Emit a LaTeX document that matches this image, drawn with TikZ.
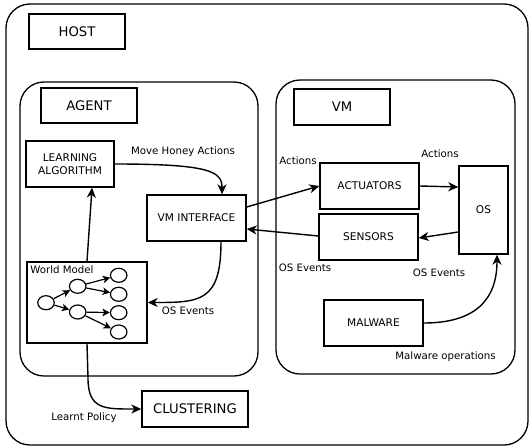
\documentclass[tikz,border=0pt]{standalone}
\usepackage{fontspec}
\setmainfont{DejaVu Sans}
\usetikzlibrary{arrows.meta,shapes.geometric}
\begin{document}
\begin{tikzpicture}[x=1pt,y=-1pt,
  container/.style={draw,line width=1.3pt,rounded corners=24pt,inner sep=0pt},
  box/.style={draw,line width=1.4pt,inner sep=0pt,font=\fontsize{10.6}{12.5}\selectfont,align=center},
  titlebox/.style={box,font=\fontsize{13.2}{15}\selectfont},
  lbl/.style={font=\fontsize{10.2}{12}\selectfont,inner sep=0pt},
  arr/.style={line width=1.4pt,-{Stealth[length=10pt,width=9pt,inset=3pt]}},
  sarr/.style={line width=1.2pt,-{Stealth[length=7.5pt,width=7.5pt,inset=2pt]}},
  st/.style={draw,line width=1.2pt,ellipse,minimum width=16.5pt,minimum height=14pt,inner sep=0pt}]
\useasboundingbox (0,0) rectangle (530,447);
% containers
\node[container,minimum width=522pt,minimum height=441pt] (hostc) at (267,224.5) {};
\node[container,minimum width=238pt,minimum height=294pt] (agentc) at (139,229) {};
\node[container,minimum width=239pt,minimum height=294pt] (vmc) at (395.5,227) {};
% title boxes
\node[titlebox,minimum width=96pt,minimum height=35pt] (host) at (77,31.5) {HOST};
\node[titlebox,minimum width=96pt,minimum height=35pt] (agent) at (89,105.5) {AGENT};
\node[titlebox,minimum width=96pt,minimum height=36pt] (vm) at (342,107) {VM};
\node[titlebox,minimum width=106pt,minimum height=36pt] (clus) at (195,409) {CLUSTERING};
% boxes
\node[box,minimum width=88pt,minimum height=46pt] (la) at (70,164) {LEARNING\\ALGORITHM};
\node[box,minimum width=99pt,minimum height=46pt] (vmi) at (196.5,218) {VM INTERFACE};
\node[box,minimum width=120pt,minimum height=81pt] (wm) at (87,302.5) {};
\node[box,minimum width=99pt,minimum height=46pt] (act) at (369.5,186) {ACTUATORS};
\node[box,minimum width=99pt,minimum height=46pt] (sen) at (368.5,237) {SENSORS};
\node[box,minimum width=49pt,minimum height=88pt] (os) at (483.5,210) {OS};
\node[box,minimum width=99pt,minimum height=46pt] (mal) at (373.5,323) {MALWARE};
% world model graph
\node[lbl] (wmlbl) at (62,270) {World Model};
\node[st] (r) at (46,302.7) {};
\node[st] (m1) at (77.7,286.3) {};
\node[st] (m2) at (77.7,312) {};
\node[st] (l1) at (118.7,275.3) {};
\node[st] (l2) at (118.7,294.3) {};
\node[st] (l3) at (118.7,312.7) {};
\node[st] (l4) at (118.7,332) {};
\draw[sarr] (r) -- (m1);
\draw[sarr] (r) -- (m2);
\draw[sarr] (m1) -- (l1);
\draw[sarr] (m1) -- (l2);
\draw[sarr] (m2) -- (l3);
\draw[sarr] (m2) -- (l4);
% connectors
\draw[arr] (la.east) .. controls (212,164) and (222,172) .. ([xshift=25.5pt]vmi.north);
\draw[arr] (wm.north) -- ([xshift=22pt]la.south);
\draw[arr] ([yshift=11pt]vmi.east) -- (act.west);
\draw[arr] ([yshift=1pt]sen.west) -- ([yshift=-11pt]vmi.east);
\draw[arr] (act.east) -- ([yshift=23pt]os.west);
\draw[arr] ([yshift=-22pt]os.west) -- ([yshift=-1pt]sen.east);
\draw[arr] ([xshift=24.5pt]vmi.south) .. controls (221,302) and (200,302.5) .. (wm.east);
\draw[arr] (mal.east) .. controls (475,323) and (497,300) .. ([xshift=13.5pt]os.south);
\draw[arr] (wm.south) -- (88,378) .. controls (88,410) and (105,409) .. (clus.west);
% labels
\node[lbl] (l-mha) at (183,152) {Move Honey Actions};
\node[lbl] (l-a1) at (298,161) {Actions};
\node[lbl] (l-a2) at (440,154) {Actions};
\node[lbl] (l-ose1) at (305,268) {OS Events};
\node[lbl] (l-ose2) at (439,273) {OS Events};
\node[lbl] (l-ose3) at (188,311) {OS Events};
\node[lbl] (l-mo) at (445.5,357) {Malware operations};
\node[lbl] (l-lp) at (84,418) {Learnt Policy};
\end{tikzpicture}
\end{document}
